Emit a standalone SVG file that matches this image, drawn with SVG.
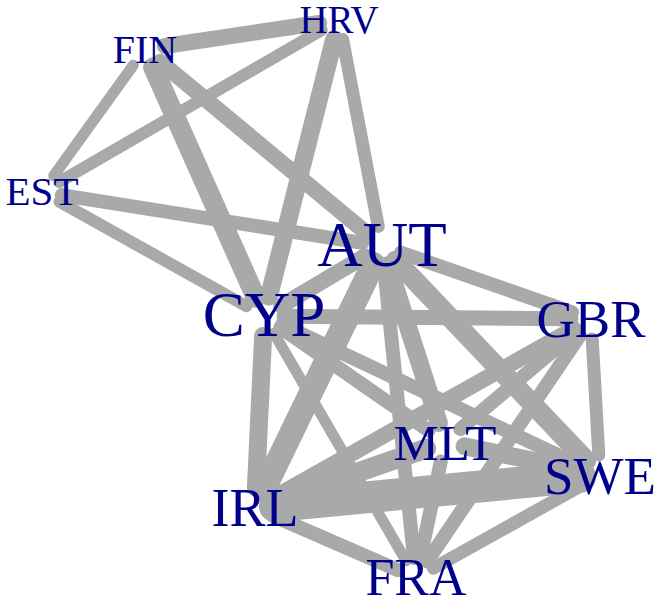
<svg xmlns="http://www.w3.org/2000/svg" width="657" height="601" viewBox="0 0 657 601">
<style>
.e line{stroke:#a9a9a9;stroke-linecap:round;fill:none}
text{font-family:"Liberation Serif","Times New Roman",serif;fill:#00008b;text-anchor:middle}
</style>
<rect width="657" height="601" fill="#fff"/>
<g id="edges" class="e">
<line x1="164.8" y1="46.0" x2="319.2" y2="23.0" stroke-width="16"/>
<line x1="133.3" y1="65.2" x2="53.7" y2="175.8" stroke-width="11"/>
<line x1="321.7" y1="30.0" x2="59.3" y2="182.0" stroke-width="12"/>
<line x1="153.1" y1="67.3" x2="255.9" y2="297.7" stroke-width="20"/>
<line x1="160.4" y1="61.8" x2="366.6" y2="233.2" stroke-width="16"/>
<line x1="334.1" y1="39.4" x2="268.9" y2="296.6" stroke-width="18"/>
<line x1="342.7" y1="39.6" x2="378.3" y2="226.4" stroke-width="13"/>
<line x1="61.8" y1="195.1" x2="362.2" y2="242.9" stroke-width="14"/>
<line x1="59.5" y1="201.8" x2="246.5" y2="306.2" stroke-width="12"/>
<line x1="364.8" y1="256.2" x2="281.2" y2="305.8" stroke-width="16"/>
<line x1="400.9" y1="252.6" x2="572.1" y2="312.4" stroke-width="14"/>
<line x1="388.1" y1="265.0" x2="438.9" y2="423.0" stroke-width="18"/>
<line x1="395.8" y1="260.5" x2="586.2" y2="460.5" stroke-width="20"/>
<line x1="373.3" y1="264.0" x2="263.7" y2="490.0" stroke-width="24"/>
<line x1="384.0" y1="265.9" x2="414.0" y2="558.1" stroke-width="14"/>
<line x1="284" y1="316.2" x2="571" y2="318.8" stroke-width="15"/>
<line x1="263.1" y1="336.0" x2="255.9" y2="488.0" stroke-width="18"/>
<line x1="280.4" y1="327.4" x2="428.6" y2="430.6" stroke-width="14"/>
<line x1="282.1" y1="324.6" x2="581.9" y2="466.4" stroke-width="14"/>
<line x1="274.0" y1="333.3" x2="406.0" y2="560.7" stroke-width="11"/>
<line x1="592.2" y1="339.0" x2="598.8" y2="455.0" stroke-width="13"/>
<line x1="573.6" y1="328.8" x2="272.4" y2="498.2" stroke-width="16"/>
<line x1="575.7" y1="331.9" x2="460.3" y2="429.1" stroke-width="14"/>
<line x1="579.8" y1="335.6" x2="427.2" y2="561.4" stroke-width="14"/>
<line x1="426.1" y1="448.6" x2="273.9" y2="501.4" stroke-width="20"/>
<line x1="464.6" y1="446.2" x2="580.4" y2="470.8" stroke-width="18"/>
<line x1="440.8" y1="461.6" x2="420.2" y2="558.4" stroke-width="14"/>
<line x1="580.1" y1="476.9" x2="274.9" y2="506.1" stroke-width="32"/>
<line x1="582.6" y1="484.8" x2="433.4" y2="568.2" stroke-width="13"/>
<line x1="273.3" y1="516.0" x2="397.7" y2="570.0" stroke-width="14"/>
</g>
<g id="HRV"><text x="339" y="33" font-size="39">HRV</text></g>
<g id="FIN"><text x="145" y="63" font-size="40">FIN</text></g>
<g id="EST"><text x="42" y="205" font-size="41">EST</text></g>
<g id="AUT"><text x="382" y="266" font-size="63">AUT</text></g>
<g id="CYP"><text x="264" y="336" font-size="63">CYP</text></g>
<g id="GBR"><text x="591" y="337" font-size="53">GBR</text></g>
<g id="MLT"><text x="445" y="460" font-size="51">MLT</text></g>
<g id="SWE"><text x="600" y="494" font-size="53">SWE</text></g>
<g id="IRL"><text x="255" y="526" font-size="54">IRL</text></g>
<g id="FRA"><text x="416" y="595" font-size="52">FRA</text></g>
</svg>
